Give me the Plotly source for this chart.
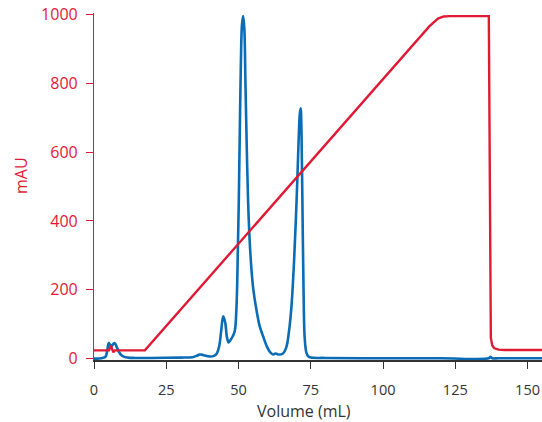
import plotly.graph_objects as go

# UV trace (blue)
uv_vol = [0, 3, 4, 4.6, 5.1, 5.6, 6.2, 6.8, 7.2, 7.8, 8.6, 9.5, 10.5, 11.7, 14, 20, 30, 34, 35.5,
          36.6, 38, 40, 41.5, 42.5, 43.3, 44, 44.7, 45.4, 46, 46.6, 47.3, 48, 48.7, 49.3, 49.8,
          50.1, 50.4, 50.8, 51.2, 51.6, 52.0, 52.4, 52.8, 53.3, 54, 55, 56.2, 57.3, 58.5, 60,
          61, 62, 62.9, 63.7, 65.4, 66.5, 67.4, 68.3, 69.2, 70.1, 70.8, 71.2, 71.5, 71.8, 72.1,
          72.5, 72.9, 73.5, 74.2, 75, 80, 100, 120, 136.6, 137.2, 137.8, 140, 155]
uv_mau = [0, 2, 6, 25, 45, 40, 37, 44, 45, 35, 20, 10, 5, 3, 2, 2, 3, 4, 8,
          12, 10, 6, 8, 15, 35, 80, 123, 105, 62, 47, 55, 65, 80, 150, 330,
          461, 635, 850, 970, 995, 960, 800, 635, 461, 320, 210, 142, 95, 65, 32,
          18, 12, 15, 12, 15, 32, 75, 150, 280, 461, 635, 710, 727, 650, 461,
          200, 60, 17, 6, 3, 2, 1, 1, 1, 5, 1, 1, 1]

# gradient trace (red)
grad_vol = [0, 5.2, 5.8, 6.3, 6.7, 7.2, 17.6, 116, 117.5, 119, 121, 123, 136.6, 137.0,
            137.3, 137.8, 138.5, 140, 142, 155]
grad_mau = [24, 24, 38, 28, 18, 24, 24, 965, 978, 988, 994, 995, 995, 500,
            60, 38, 30, 26, 25, 25]

x_ticks = [0, 25, 50, 75, 100, 125, 150]
y_ticks = [0, 200, 400, 600, 800, 1000]

BLUE = "#0a6cb5"
RED = "#e01a35"

fig = go.Figure()
fig.add_trace(go.Scatter(x=uv_vol, y=uv_mau, mode="lines",
                         line=dict(color=BLUE, width=2.6), line_shape="spline"))
fig.add_trace(go.Scatter(x=grad_vol, y=grad_mau, mode="lines",
                         line=dict(color=RED, width=2.4)))

fig.update_layout(
    width=542, height=422,
    margin=dict(l=94, r=0, t=13, b=62),
    plot_bgcolor="white", paper_bgcolor="white",
    showlegend=False,
    font=dict(family="Open Sans", size=15, color="#333333"),
)
fig.update_xaxes(
    range=[0, 155], tickvals=x_ticks, showgrid=False, zeroline=False,
    showline=True, linecolor="#333333", linewidth=1.5,
    ticks="outside", ticklen=7, tickcolor="#333333",
    tickfont=dict(size=14.5),
    ticklabelstandoff=9, ticklabeloverflow="allow", automargin=False,
)
fig.update_yaxes(
    range=[-4, 1004], tickvals=y_ticks, showgrid=False, zeroline=False,
    showline=True, linecolor=RED, linewidth=1.2,
    ticks="outside", ticklen=7, tickcolor=RED,
    tickfont=dict(color=RED, size=16), ticklabelstandoff=5,
    ticklabeloverflow="allow", automargin=False,
)

fig.add_annotation(text="Volume (mL)", xref="paper", yref="paper", x=0.469, y=-0.146,
                   showarrow=False, xanchor="center", yanchor="middle",
                   font=dict(size=16, color="#333333"))
fig.add_annotation(text="mAU", xref="paper", yref="paper", x=-0.163, y=0.533,
                   showarrow=False, textangle=-90, xanchor="center", yanchor="middle",
                   font=dict(size=16, color=RED))

# drop the default 8px page margin so the figure sits at the window's corner
fig.write_html("out.html", config={"displayModeBar": False},
               post_script="document.body.style.margin='0';")
